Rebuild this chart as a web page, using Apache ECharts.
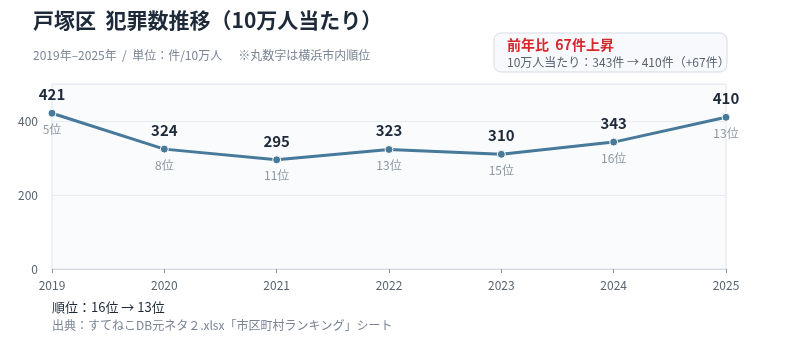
<!DOCTYPE html>
<html>
<head>
<meta charset="utf-8">
<script src="https://cdn.jsdelivr.net/npm/echarts@6/dist/echarts.min.js"></script>
<style>
  html, body { margin: 0; padding: 0; background: #fff; }
  #chart { width: 800px; height: 347px; }
</style>
</head>
<body>
<div id="chart"></div>
<script>
const years = ["2019", "2020", "2021", "2022", "2023", "2024", "2025"];
const crimesPer100k = [421, 324, 295, 323, 310, 343, 410];
const ranks = [5, 8, 11, 13, 15, 16, 13];

const FONT = "'Noto Sans CJK JP', sans-serif";
const lineColor = "#47799a";

const chart = echarts.init(document.getElementById("chart"));

const option = {
    animation: false,
    textStyle: { fontFamily: FONT },
    grid: {
        left: 52, right: 74, top: 84, bottom: 78,
        show: true,
        backgroundColor: "#f9fbfd",
        borderColor: "#dfe4ec",
        borderWidth: 1
    },
    graphic: [
        { type: "text", left: 33, top: 10, style: { text: "戸塚区  犯罪数推移（10万人当たり）", font: "bold 21px " + FONT, fill: "#1e2a3a" } },
        { type: "text", left: 33, top: 49, style: { text: "2019年–2025年  /  単位：件/10万人      ※丸数字は横浜市内順位", font: "12px " + FONT, fill: "#7a8494" } },
        {
            type: "rect", shape: { x: 494, y: 33, width: 233, height: 39, r: 7 },
            style: { fill: "#f7f9fc", stroke: "#d5dbe5", lineWidth: 1 }
        },
        { type: "text", left: 507, top: 38, style: { text: "前年比  67件上昇", font: "bold 14px " + FONT, fill: "#d6282b" } },
        { type: "text", left: 507, top: 56, style: { text: "10万人当たり：343件 → 410件（+67件）", font: "12px " + FONT, fill: "#59636f" } },
        { type: "text", left: 52, top: 301, style: { text: "順位：16位 → 13位", font: "13px " + FONT, fill: "#1e2a3a" } },
        { type: "text", left: 52, top: 319, style: { text: "出典：すてねこDB元ネタ２.xlsx「市区町村ランキング」シート", font: "12px " + FONT, fill: "#7a8494" } }
    ],
    xAxis: {
        type: "category",
        data: years,
        boundaryGap: false,
        axisLine: { lineStyle: { color: "#d5dbe5" } },
        axisTick: { show: true, alignWithLabel: true, lineStyle: { color: "#8a93a0" }, length: 4 },
        axisLabel: { color: "#59636f", fontSize: 12, margin: 10 }
    },
    yAxis: {
        type: "value",
        min: 0, max: 500, interval: 200,
        axisLine: { show: false },
        axisTick: { show: false },
        axisLabel: { color: "#59636f", fontSize: 12, margin: 14, showMaxLabel: false },
        splitLine: { lineStyle: { color: "#e8ebf0" } }
    },
    series: [
        {
            type: "line",
            data: crimesPer100k,
            symbol: "circle",
            symbolSize: 8,
            lineStyle: { color: lineColor, width: 3 },
            itemStyle: { color: lineColor, borderColor: "#fff", borderWidth: 1 },
            label: {
                show: true, position: "top", distance: 7,
                fontSize: 15, fontWeight: "bold", color: "#1e2a3a"
            },
            z: 3
        },
        {
            // rank labels under each point
            type: "scatter",
            data: crimesPer100k,
            symbolSize: 8,
            itemStyle: { color: "rgba(0,0,0,0)" },
            silent: true,
            label: {
                show: true, position: "bottom", distance: 6,
                fontSize: 12, color: "#737d8c",
                formatter: (p) => ranks[p.dataIndex] + "位"
            },
            z: 2
        }
    ]
};

chart.setOption(option);
</script>
</body>
</html>
